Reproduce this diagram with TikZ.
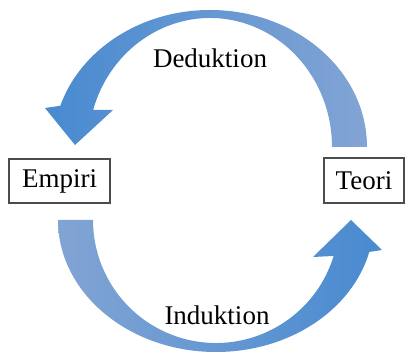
\documentclass[tikz,border=0pt]{standalone}
\usepackage{fontspec}
\setmainfont{Liberation Serif}
\usepackage{tikz}
\usetikzlibrary{calc}
\usetikzlibrary{positioning}
\definecolor{headblue}{RGB}{72,138,208}
\definecolor{tailblue}{RGB}{130,164,212}
\colorlet{boxline}{black!70}

\begin{document}
\begin{tikzpicture}[
x=1pt,y=1pt,
MyBoxes/.style={draw=boxline,line width=1.3pt,fill=white,inner sep=0pt,font=\fontsize{27}{30}\selectfont},
MyLabels/.style={font=\fontsize{27}{30}\selectfont,inner sep=0pt},
TopShade/.style={left color=headblue,right color=tailblue},
BottomShade/.style={left color=tailblue,right color=headblue}
]
\useasboundingbox (0,0) rectangle (405,358);

% centres of the two arcs
\coordinate (T) at (210,211);
\coordinate (U) at (216,138);

% Deduktion: from Teori back to Empiri
\shade[TopShade]
 ($(T)+(0:157 and 137)$) arc[start angle=0,end angle=162.5,x radius=157,y radius=137]
 -- (45,250) -- (75,213) -- (113,248)
 -- ($(T)+(163.3:122 and 129)$) arc[start angle=163.3,end angle=0,x radius=122,y radius=129]
 -- cycle;

% Induktion: from Empiri up to Teori
\shade[BottomShade]
 ($(U)+(180:158 and 132)$) arc[start angle=180,end angle=346,x radius=158,y radius=132]
 -- (382,108) -- (351,138) -- (313,101)
 -- ($(U)+(343:123 and 123)$) arc[start angle=343,end angle=180,x radius=123,y radius=123]
 -- cycle;

\node[MyBoxes,minimum width=101pt,minimum height=44pt] (empiri) at (59.5,177) {Empiri};
\node[MyBoxes,minimum width=80pt,minimum height=45pt] (teori) at (364,177.5) {Teori};

\node[MyLabels] (deduktion) at (210,300) {Deduktion};
\node[MyLabels] (induktion) at (217,43) {Induktion};

\end{tikzpicture}
\end{document}
